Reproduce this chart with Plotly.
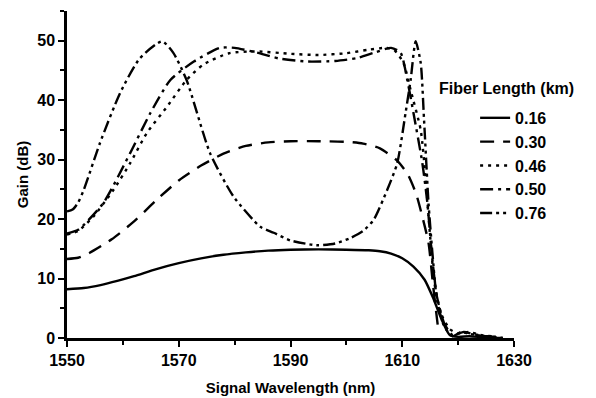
import plotly.graph_objects as go

# ---- data ----
wl_016 = [1550, 1553, 1556, 1559, 1562, 1566, 1570, 1574, 1578, 1582, 1586, 1590, 1595,
          1600, 1604, 1606, 1608, 1610, 1612, 1614, 1615.5, 1617, 1618.5, 1620, 1622,
          1625, 1628]
g_016 = [8.2, 8.4, 8.9, 9.6, 10.4, 11.6, 12.6, 13.4, 14.0, 14.4, 14.7, 14.85, 14.9,
         14.85, 14.75, 14.6, 14.2, 13.4, 12.0, 9.8, 6.8, 3.2, 0.5, 0.2, 0.3,
         0.1, 0.0]

wl_030 = [1550, 1552, 1554, 1558, 1562, 1566, 1570, 1574, 1578, 1582, 1586, 1590, 1595,
          1600, 1603, 1606, 1609, 1611, 1612.5, 1613.6, 1614.7, 1615.5, 1616.5]
g_030 = [13.3, 13.5, 14.3, 16.6, 19.6, 23.2, 26.5, 29.0, 31.0, 32.3, 32.9, 33.1, 33.1,
         33.0, 32.7, 31.9, 29.9, 27.5, 24.2, 20.4, 16.0, 9.0, 1.0]

wl_046 = [1550, 1552, 1554.7, 1558.3, 1561.3, 1564.3, 1567.9, 1571.4, 1574.4, 1579, 1584,
          1590, 1595, 1600, 1604, 1607, 1608.5, 1610.2, 1611.5, 1613.3, 1614.2, 1615,
          1615.8, 1617, 1618.5, 1620, 1622, 1624, 1626]
g_046 = [17.4, 18.0, 20.4, 24.9, 29.4, 34.5, 38.9, 43.4, 46.0, 47.9, 48.2,
         47.8, 47.6, 47.9, 48.5, 48.8, 48.5, 46.3, 41.7, 35.0, 26.6, 17.0,
         9.0, 4.0, 1.5, 0.8, 1.0, 0.5, 0.3]

wl_050 = [1550, 1552, 1556.5, 1561.3, 1564.9, 1568.5, 1572.7, 1577.4, 1580, 1584, 1588,
          1593, 1598, 1602, 1605, 1608, 1609.7, 1610.9, 1612, 1613.6, 1614.5, 1615.3,
          1616.2, 1617.5, 1619, 1621, 1623, 1625, 1627]
g_050 = [17.6, 18.2, 22.7, 31.1, 37.8, 43.4, 46.5, 48.8, 48.8, 48.0, 47.0,
         46.5, 46.6, 47.1, 48.0, 48.8, 48.0, 43.4, 37.9, 29.4, 22.7, 14.0,
         7.0, 2.5, 0.5, 1.0, 0.6, 0.3, 0.2]

wl_076 = [1550, 1551, 1552, 1553, 1555.9, 1559.5, 1563, 1567, 1569, 1571.4, 1575.6, 1579.8,
          1584.6, 1587, 1590, 1594.7, 1598, 1600.7, 1603, 1604.9, 1607.3, 1609.1, 1610.6,
          1611.5, 1612.4, 1613.3, 1613.9, 1614.7, 1615.4, 1616.2, 1617.5, 1619, 1620.5,
          1622, 1624, 1626, 1628]
g_076 = [21.3, 21.6, 22.8, 24.9, 32.8, 41.2, 47.0, 49.9, 48.0, 43.4, 31.1, 23.8,
         18.7, 17.7, 16.4, 15.6, 15.9, 16.8, 18.0, 19.9, 24.9, 29.4, 37.9,
         43.4, 49.9, 46.3, 36.7, 22.7, 14.3, 6.5, 2.0, 0.3, 1.0,
         0.7, 0.4, 0.2, 0.0]

series = [
    ("0.16", wl_016, g_016, "solid"),
    ("0.30", wl_030, g_030, "14px,9px"),
    ("0.46", wl_046, g_046, "3px,5px"),
    ("0.50", wl_050, g_050, "13px,5px,3px,5px"),
    ("0.76", wl_076, g_076, "12px,4px,3px,4px,3px,4px"),
]

x_ticks = [1550, 1570, 1590, 1610, 1630]
y_ticks = [0, 10, 20, 30, 40, 50]

FONT = "Liberation Sans, Arial, sans-serif"

fig = go.Figure()
for name, xs, ys, dash in series:
    fig.add_trace(go.Scatter(
        x=xs, y=ys, name=name, mode="lines",
        line=dict(color="black", width=2.4, dash=dash, shape="spline", smoothing=0.6),
    ))

axis_common = dict(
    showline=True, linecolor="black", linewidth=2.5, mirror=False,
    showgrid=False, zeroline=False, automargin=False,
    ticks="outside", tickcolor="black", tickwidth=2, ticklen=6,
    tickfont=dict(family=FONT, size=16, color="black", weight="bold"),
)

fig.update_xaxes(
    range=[1550, 1630], tickvals=x_ticks, ticktext=[str(v) for v in x_ticks],
    minor=dict(dtick=10, tick0=1550, ticks="outside", ticklen=4, tickwidth=2, tickcolor="black"),
    title=dict(text="Signal Wavelength (nm)", font=dict(family=FONT, size=15, color="black", weight="bold"), standoff=15),
    **axis_common,
)
fig.update_yaxes(
    range=[0, 55], tickvals=y_ticks, ticktext=[str(v) for v in y_ticks],
    minor=dict(dtick=5, tick0=0, ticks="outside", ticklen=4, tickwidth=2, tickcolor="black"),
    title=dict(text="Gain (dB)", font=dict(family=FONT, size=15, color="black", weight="bold"), standoff=6),
    **axis_common,
)

fig.add_annotation(
    text="Fiber Length (km)", xref="paper", yref="paper", x=0.828, y=0.7645,
    xanchor="left", yanchor="middle", showarrow=False,
    font=dict(family=FONT, size=16, color="black", weight="bold"),
)

fig.update_layout(
    width=596, height=398,
    margin=dict(l=67, r=82, t=11, b=60),
    paper_bgcolor="white", plot_bgcolor="white",
    showlegend=True,
    legend=dict(
        x=0.913, y=0.725, xanchor="left", yanchor="top",
        bgcolor="rgba(0,0,0,0)", borderwidth=0,
        font=dict(family=FONT, size=16, color="black", weight="bold"),
        tracegroupgap=0,
    ),
)

fig.write_html("out.html")
